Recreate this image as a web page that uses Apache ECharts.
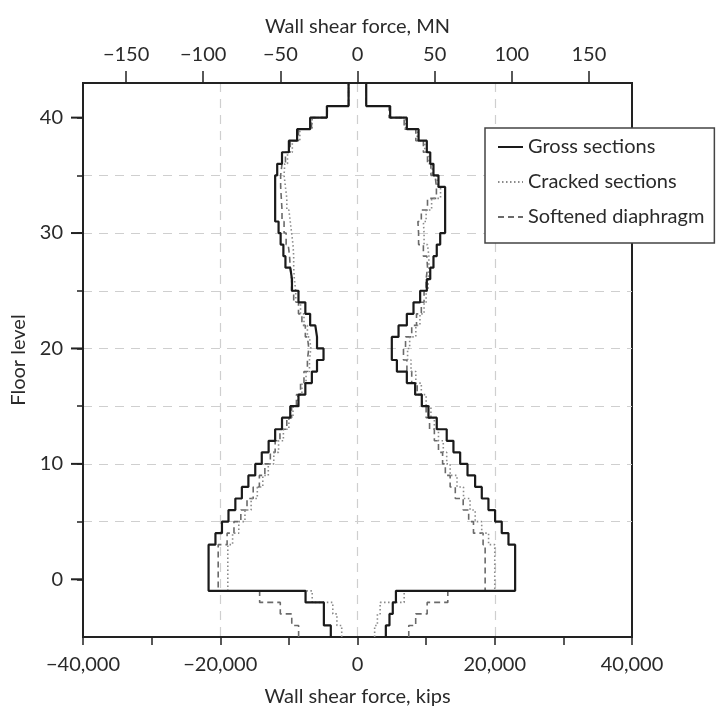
<!DOCTYPE html>
<html><head><meta charset="utf-8">
<script src="https://cdn.jsdelivr.net/npm/echarts@6/dist/echarts.min.js"></script>
<style>html,body{margin:0;padding:0;background:#fff}#c{width:720px;height:712px}</style>
</head><body><div id="c"></div>
<script>
// Interval bottoms (floor level); each value applies from floor f to f+1
const floorBase = [-5,-4,-3,-2,-1,0,1,2,3,4,5,6,7,8,9,10,11,12,13,14,15,16,17,18,19,20,21,22,23,24,25,26,27,28,29,30,31,32,33,34,35,36,37,38,39,40,41,42];
// Wall shear force, kips
const grossLeft = [-3890,-4900,-4900,-7570,-21700,-21700,-21700,-21700,-20700,-19750,-18800,-17800,-16850,-15900,-14900,-13950,-12950,-12000,-11000,-9800,-8600,-7600,-6650,-5900,-4950,-5900,-6150,-6900,-7600,-8600,-9550,-9800,-10500,-10800,-11200,-11500,-12000,-12000,-12000,-12000,-11700,-11000,-10000,-8800,-6900,-4460,-1300,-1300];
const grossRight = [4130,4660,5140,5600,22970,22970,22970,22970,22000,21020,20050,19080,18110,17140,16030,14960,13980,13000,11550,10340,9370,8400,7190,5740,5000,5000,5980,7190,8160,9130,10100,10600,11070,11550,12050,12770,12770,12770,12770,11800,11070,10600,10100,8900,7190,4760,1270,1270];
const crackedLeft = [-2300,-3000,-3600,-6600,-18900,-18900,-18900,-18900,-18200,-17300,-16400,-15500,-14600,-13800,-13000,-12200,-11500,-10800,-10000,-9400,-8700,-8100,-7500,-7000,-6800,-7000,-7300,-7800,-8300,-9000,-9200,-9300,-9300,-9400,-9600,-9800,-10000,-10300,-10500,-10700,-10600,-10200,-9500,-8400,-6600,-4400,-1300,-1300];
const crackedRight = [2500,2900,3300,6800,20000,20000,20000,20000,19100,18100,17150,16400,15450,14500,13500,13000,12500,11800,11200,10700,10000,9300,8500,7800,7300,7600,8500,9100,9700,10000,10300,10400,10400,10200,9700,9600,10000,10800,12100,11600,10900,10400,9800,8700,7000,4700,1270,1270];
const softenedLeft = [-8580,-9580,-11250,-14260,-20300,-20300,-20300,-20300,-19000,-18000,-17000,-16100,-15200,-14300,-13500,-12700,-12000,-11300,-10300,-9600,-8900,-8300,-7800,-7300,-7100,-7300,-7600,-8100,-8600,-9300,-9600,-9800,-9900,-10100,-10400,-10700,-11000,-11100,-11200,-11200,-11000,-10500,-9800,-8600,-6700,-4400,-1300,-1300];
const softenedRight = [7470,8480,10150,13160,18600,18600,18600,18600,18300,16900,16200,15400,14250,13500,12800,12400,11800,11200,10500,10000,9400,8700,7900,7200,6700,7000,7900,8600,9300,9700,10000,10200,10100,9600,8900,8800,9300,10200,11500,11300,10700,10200,9600,8500,6800,4600,1270,1270];

const seriesNames = ['Gross sections','Cracked sections','Softened diaphragm'];
const kipsTicks = [-40000,-20000,0,20000,40000];
const mnTicks = [-150,-100,-50,0,50,100,150];
const floorLabels = [0,10,20,30,40];
const floorTicks = [0,5,10,15,20,25,30,35,40];
const KIPS_MIN = -40000, KIPS_MAX = 40000;
const KIPS_PER_MN = 224.809;

function stepPoints(vals){
  const pts = [];
  vals.forEach((v,i)=>{ pts.push([v, floorBase[i]]); pts.push([v, floorBase[i]+1]); });
  return pts;
}
const FONT = 'Lato';
const txt = '#2a2a2a';
const styles = [
  {color:'#1a1a1a', width:2.2, type:'solid'},
  {color:'#8a8a8a', width:1.6, type:[1.5,2.5]},
  {color:'#6a6a6a', width:1.6, type:[6,4]}
];
const sets = [[grossLeft,grossRight],[crackedLeft,crackedRight],[softenedLeft,softenedRight]];
const series = [];
[2,1,0].forEach(k=>{
  sets[k].forEach(arr=>{
    series.push({type:'line', name:seriesNames[k], data:stepPoints(arr), symbol:'none', showSymbol:false,
      xAxisIndex:0, yAxisIndex:0, z: 10-k, lineStyle:{color:styles[k].color, width:styles[k].width, type:styles[k].type},
      itemStyle:{color:styles[k].color}});
  });
});
// longer major ticks at labelled floors (outside the frame)
series.push({type:'scatter', name:'majorTicks', data:floorLabels.map(f=>[KIPS_MIN, f]),
  symbol:'rect', symbolSize:[12,2], symbolOffset:[-6,0], clip:false, silent:true, z:12,
  itemStyle:{color:'#222', opacity:1}, xAxisIndex:0, yAxisIndex:0});

const fmtK = v => (v<0?'\u2212':'') + Math.abs(v).toLocaleString('en-US');
const fmtM = v => (v<0?'\u2212':'') + Math.abs(v);
const lineAx = {show:true, onZero:false, lineStyle:{color:'#222', width:2}};
const splitStyle = {show:true, showMinLine:false, showMaxLine:false, lineStyle:{color:'#cfcfcf', type:[9,7], width:1.2}};
const chart = echarts.init(document.getElementById('c'));
chart.setOption({
  animation:false,
  backgroundColor:'#fff',
  grid:{left:83, right:88, top:83, bottom:69, show:true, borderColor:'#222', borderWidth:2},
  legend:{data:seriesNames, orient:'vertical', left:485, top:128, padding:[9,10,16,12], itemGap:15,
    itemWidth:25, itemHeight:20, borderColor:'#444', borderWidth:1.5, backgroundColor:'#fff',
    itemStyle:{opacity:0},
    textStyle:{fontFamily:FONT, fontSize:20, color:txt}, z:20},
  xAxis:[
    {type:'value', position:'bottom', min:KIPS_MIN, max:KIPS_MAX, interval:20000,
     name:'Wall shear force, kips', nameLocation:'middle', nameGap:50,
     nameTextStyle:{fontFamily:FONT, fontSize:20, color:txt},
     axisLine:lineAx, axisTick:{show:true, length:8, lineStyle:{color:'#222', width:1.5}},
     minorTick:{show:true, splitNumber:2, length:8, lineStyle:{color:'#222', width:1.5}},
     axisLabel:{formatter:fmtK, fontFamily:FONT, fontSize:20, color:txt, margin:18, customValues:kipsTicks},
     splitLine:splitStyle},
    {type:'value', position:'top', min:KIPS_MIN/KIPS_PER_MN, max:KIPS_MAX/KIPS_PER_MN,
     name:'Wall shear force, MN', nameLocation:'middle', nameGap:46,
     nameTextStyle:{fontFamily:FONT, fontSize:20, color:txt},
     axisLine:lineAx, axisTick:{show:true, length:12, customValues:mnTicks, lineStyle:{color:'#222', width:1.5}},
     axisLabel:{formatter:fmtM, fontFamily:FONT, fontSize:20, color:txt, margin:18, customValues:mnTicks},
     splitLine:{show:false}}
  ],
  yAxis:[
    {type:'value', position:'left', min:-5, max:43, interval:5,
     name:'Floor level', nameLocation:'middle', nameGap:52, nameRotate:90,
     nameTextStyle:{fontFamily:FONT, fontSize:20, color:txt},
     axisLine:lineAx, axisTick:{show:true, length:6, customValues:floorTicks, lineStyle:{color:'#222', width:1.5}},
     axisLabel:{fontFamily:FONT, fontSize:20, color:txt, margin:20, customValues:floorLabels},
     splitLine:splitStyle}
  ],
  series: series
});
</script></body></html>
